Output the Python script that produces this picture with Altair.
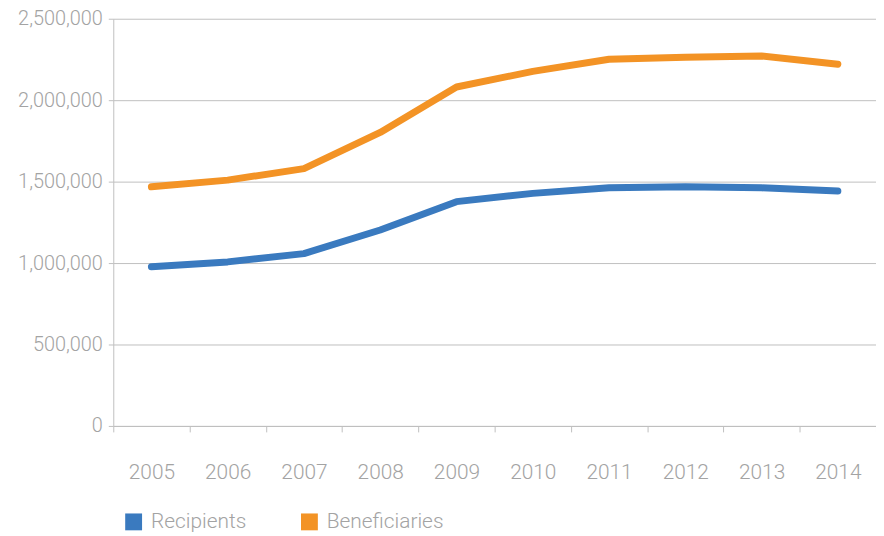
import altair as alt
import pandas as pd

years = ["2005", "2006", "2007", "2008", "2009", "2010", "2011", "2012", "2013", "2014"]
recipients = [977000, 1007000, 1058000, 1203000, 1377000, 1428000, 1462000, 1468000, 1462000, 1442000]
beneficiaries = [1468000, 1509000, 1580000, 1802000, 2081000, 2177000, 2251000, 2263000, 2271000, 2221000]
series = ["Recipients", "Beneficiaries"]
colors = ["#3a7abf", "#f39325"]

rows = []
for name, vals in zip(series, [recipients, beneficiaries]):
    for y, v in zip(years, vals):
        rows.append({"Year": y, "Value": v, "Series": name})
df = pd.DataFrame(rows)

FONT = "Roboto"
GRAY = "#a3a3a3"

chart = alt.Chart(df).mark_line(strokeWidth=7, strokeCap="round", strokeJoin="round").encode(
    x=alt.X("Year:N", sort=years, title=None,
            scale=alt.Scale(paddingInner=0, paddingOuter=0),
            axis=alt.Axis(labelAngle=0, tickBand="extent", labelPadding=30, tickSize=6,
                          domainColor="#bfbfbf", tickColor="#bfbfbf", grid=False,
                          labelColor=GRAY, labelFontSize=21, labelFont=FONT, labelFontWeight=300)),
    y=alt.Y("Value:Q", title=None,
            scale=alt.Scale(domain=[0, 2500000], nice=False),
            axis=alt.Axis(values=[0, 500000, 1000000, 1500000, 2000000, 2500000], format=",d",
                          tickSize=5, labelPadding=6, domainColor="#bfbfbf", tickColor="#bfbfbf",
                          gridColor="#bfbfbf", gridWidth=1,
                          labelColor=GRAY, labelFontSize=20, labelFont=FONT, labelFontWeight=300)),
    color=alt.Color("Series:N", sort=series,
                    scale=alt.Scale(domain=series, range=colors),
                    legend=alt.Legend(title=None, orient="none", direction="horizontal",
                                      legendX=10, legendY=496, symbolType="square", symbolSize=72,
                                      symbolStrokeWidth=8.5, symbolOpacity=1, labelOffset=7,
                                      columnPadding=42,
                                      labelColor=GRAY, labelFontSize=21, labelFont=FONT,
                                      labelFontWeight=300)),
).properties(
    width=768, height=410,
    autosize=alt.AutoSizeParams(type="none"),
    padding={"left": 106, "top": 9, "right": 0, "bottom": 107},
).configure_view(stroke=None)

chart.save("out.html", embed_options={"renderer": "svg", "actions": False})
